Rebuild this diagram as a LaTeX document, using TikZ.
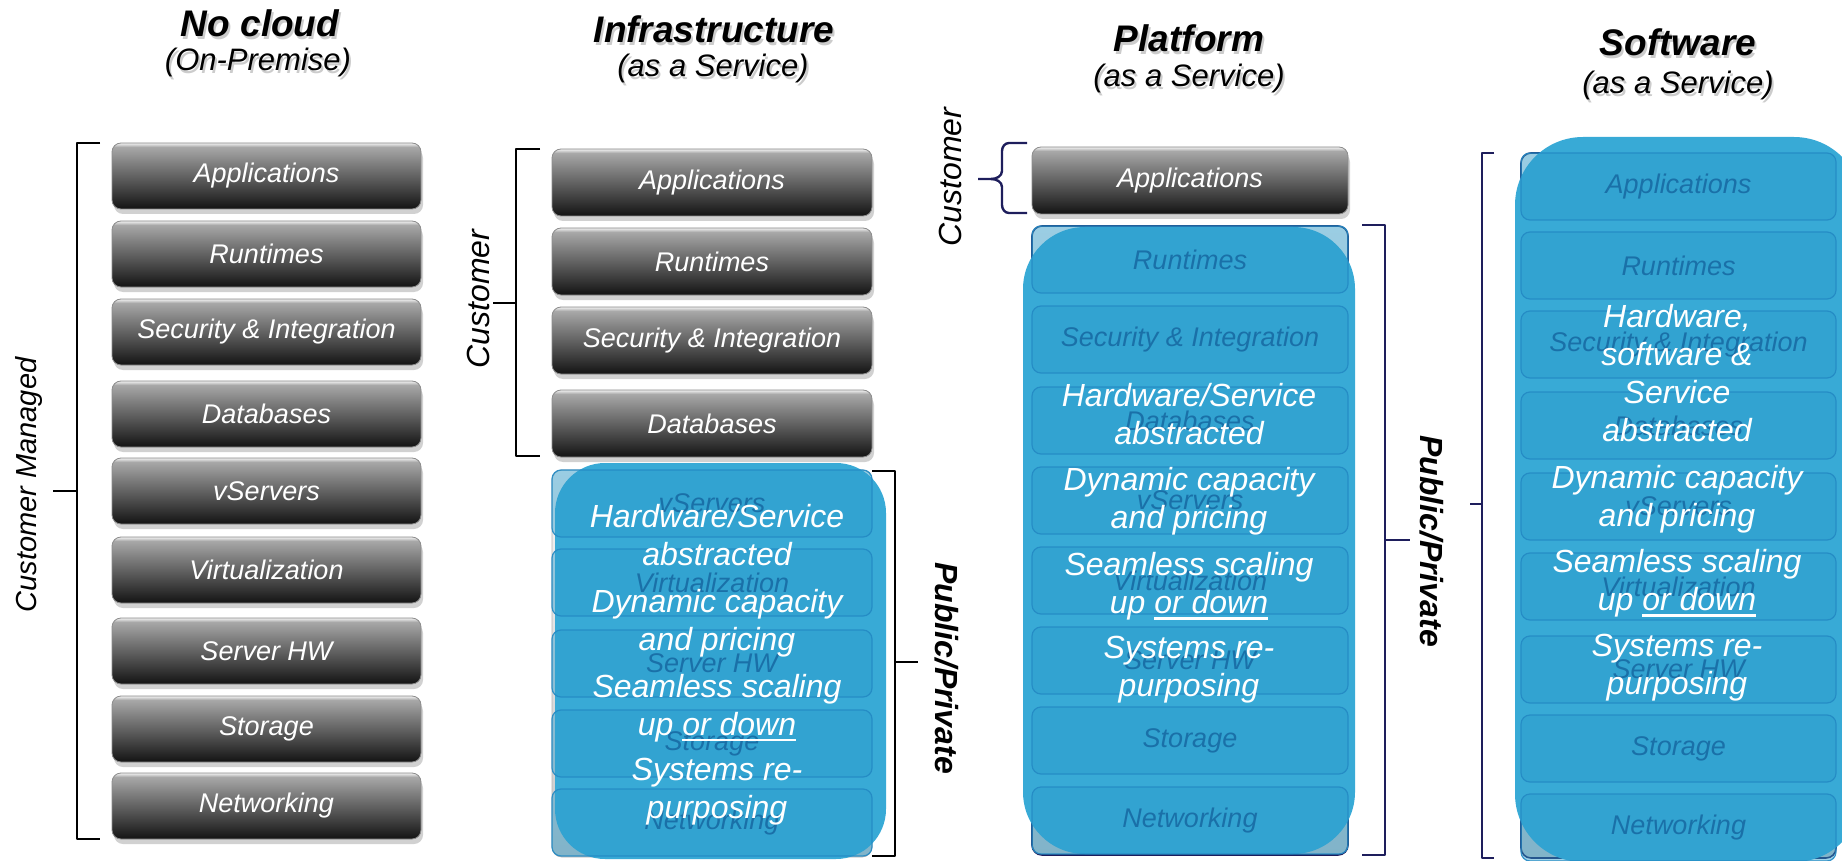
\documentclass[tikz,border=0pt]{standalone}
\usepackage{fontspec}
\setmainfont{Liberation Sans}
\usetikzlibrary{calc}
\definecolor{dk1}{RGB}{22,22,22}
\definecolor{dk2}{RGB}{48,48,48}
\definecolor{dk3}{RGB}{92,92,92}
\definecolor{dk4}{RGB}{132,132,132}
\definecolor{dk6}{RGB}{168,168,168}
\definecolor{dk5}{RGB}{230,230,230}
\pgfdeclareverticalshading{darkshade}{100bp}{color(0bp)=(dk1); color(26bp)=(dk1); color(34bp)=(dk2); color(48bp)=(dk3); color(61bp)=(dk4); color(72bp)=(dk6); color(74.5bp)=(dk5); color(100bp)=(dk5)}
\definecolor{cblue}{RGB}{56,170,214}
\definecolor{boxline}{RGB}{36,138,196}
\definecolor{boxfill}{RGB}{44,156,204}
\definecolor{boxtxt}{RGB}{20,100,158}
\definecolor{navy}{RGB}{30,30,92}
\definecolor{regtop}{RGB}{246,246,246}
\definecolor{regbot}{RGB}{200,200,200}
\newcommand\fntbox{\fontsize{27}{32}\selectfont\itshape}
\newcommand\fnttitle{\fontsize{37}{44}\selectfont\bfseries\itshape}
\newcommand\fntsub{\fontsize{31}{37}\selectfont\itshape}
\newcommand\fntbul{\fontsize{32}{38}\selectfont\itshape}
\newcommand\fntside{\fontsize{32}{38}\selectfont\itshape}
\newcommand\fntcm{\fontsize{29}{34}\selectfont\itshape}
\newcommand\fntpp{\fontsize{32}{38}\selectfont\bfseries\itshape}
\newcommand\myul[1]{\leavevmode\vtop{\hbox{#1}\kern3pt\hrule height 2.5pt}}
\begin{document}
\begin{tikzpicture}[x=1pt,y=-1pt,
  darkbox/.style={rounded corners=9pt, shading=darkshade, draw=black!45, line width=0.8pt, text=white, font=\fntbox, inner sep=0pt},
  innerbox/.style={rounded corners=9pt, draw=boxline, line width=1.2pt, fill=boxfill, fill opacity=0.45, draw opacity=0.9, text opacity=0.8, text=boxtxt, font=\fntbox, inner sep=0pt},
  region/.style={rounded corners=10pt, top color=regtop, bottom color=regbot, inner sep=0pt},
  blueov/.style={fill=cblue, inner sep=0pt},
  bul/.style={text=white, font=\fntbul, align=center, inner sep=0pt},
  ttl/.style={font=\fnttitle, inner sep=0pt},
  subttl/.style={font=\fntsub, inner sep=0pt},
  tshadow/.style={text=black, text opacity=0.2},
  brk/.style={line width=2.4pt, line join=round},
  nbrk/.style={brk, draw=navy},
  shd/.style={fill=black, opacity=0.18, rounded corners=9pt},
]
\useasboundingbox (0,0) rectangle (1842,861);
\clip (0,0) rectangle (1842,861);

% ---------- titles ----------
\node[ttl,tshadow] (t1s) at (262,26) {No cloud};
\node[ttl] (t1) at (260,23) {No cloud};
\node[subttl,tshadow] (s1s) at (260,65) {(On-Premise)};
\node[subttl] (s1) at (258,62) {(On-Premise)};
\node[ttl,tshadow] (t2s) at (716,32) {Infrastructure};
\node[ttl] (t2) at (714,29) {Infrastructure};
\node[subttl,tshadow] (s2s) at (715,71) {(as a Service)};
\node[subttl] (s2) at (713,68) {(as a Service)};
\node[ttl,tshadow] (t3s) at (1191,41) {Platform};
\node[ttl] (t3) at (1189,38) {Platform};
\node[subttl,tshadow] (s3s) at (1191,81) {(as a Service)};
\node[subttl] (s3) at (1189,78) {(as a Service)};
\node[ttl,tshadow] (t4s) at (1680,45) {Software};
\node[ttl] (t4) at (1678,42) {Software};
\node[subttl,tshadow] (s4s) at (1680,88) {(as a Service)};
\node[subttl] (s4) at (1678,85) {(as a Service)};

% ---------- column 1: No cloud ----------
\foreach \lab/\ty [count=\i] in {Applications/143,Runtimes/221,Security \& Integration/299,Databases/381,vServers/458,Virtualization/537,Server HW/618,Storage/696,Networking/773}{
  \fill[shd] (114,\ty+6) rectangle (423,\ty+71);
  \node[darkbox, minimum width=309pt, minimum height=66pt] (a\i) at (266.5,\ty+33) {\lab};
}

% ---------- column 2: IaaS ----------
\foreach \lab/\ty [count=\i] in {Applications/149,Runtimes/228,Security \& Integration/307,Databases/390}{
  \fill[shd] (554,\ty+6) rectangle (874,\ty+72);
  \node[darkbox, minimum width=320pt, minimum height=67pt] (b\i) at (712,\ty+33.5) {\lab};
}
\node[region, draw=black!30, line width=0.8pt, minimum width=320pt, minimum height=387pt] (rb) at (712,663.5) {};
\node[blueov, rounded corners=50pt, minimum width=331pt, minimum height=396pt] (ob) at (720.5,661) {};
\foreach \lab/\ty [count=\i from 5] in {vServers/470,Virtualization/549,Server HW/630,Storage/710,Networking/789}{
  \node[innerbox, minimum width=320pt, minimum height=67pt] (b\i) at (712,\ty+33.5) {\lab};
}
\node[bul] (pb1) at (717,535) {Hardware/Service\\abstracted};
\node[bul] (pb2) at (717,623) {Dynamic capacity\\and pricing};
\node[bul] (pb3) at (717,708) {Seamless scaling\\up \myul{or down}};
\node[bul] (pb4) at (717,792) {Systems re-\\purposing};

% ---------- column 3: PaaS ----------
\fill[shd] (1034,153) rectangle (1350,219);
\node[darkbox, minimum width=316pt, minimum height=67pt] (c1) at (1190,180.5) {Applications};
\node[region, draw=navy, line width=1.6pt, minimum width=316pt, minimum height=629pt] (rc) at (1190,540.5) {};
\node[blueov, rounded corners=62pt, minimum width=332pt, minimum height=627pt] (oc) at (1189,540.5) {};
\foreach \lab/\ty [count=\i from 2] in {Runtimes/226,Security \& Integration/306,Databases/387,vServers/467,Virtualization/547,Server HW/627,Storage/707,Networking/787}{
  \node[innerbox, minimum width=316pt, minimum height=67pt] (c\i) at (1190,\ty+33.5) {\lab};
}
\node[bul] (pc1) at (1189,414) {Hardware/Service\\abstracted};
\node[bul] (pc2) at (1189,501.5) {Dynamic capacity\\and pricing};
\node[bul] (pc3) at (1189,586.5) {Seamless scaling\\up \myul{or down}};
\node[bul] (pc4) at (1189,669.5) {Systems re-\\purposing};

% ---------- column 4: SaaS ----------
\node[region, draw=navy, line width=1.6pt, minimum width=315pt, minimum height=705pt] (rd) at (1678.5,505.5) {};
\node[blueov, rounded corners=68pt, minimum width=347pt, minimum height=725pt] (od) at (1688.5,499.5) {};
\foreach \lab/\ty [count=\i] in {Applications/153,Runtimes/232,Security \& Integration/311,Databases/392,vServers/473,Virtualization/553,Server HW/636,Storage/715,Networking/794}{
  \node[innerbox, minimum width=315pt, minimum height=67pt] (d\i) at (1678.5,\ty+33.5) {\lab};
}
\node[bul] (pd1) at (1677,373) {Hardware,\\software \&\\Service\\abstracted};
\node[bul] (pd2) at (1677,499.5) {Dynamic capacity\\and pricing};
\node[bul] (pd3) at (1677,583.5) {Seamless scaling\\up \myul{or down}};
\node[bul] (pd4) at (1677,667.5) {Systems re-\\purposing};

% ---------- brackets ----------
\draw[brk] (100,143) -- (77,143) -- (77,839) -- (100,839);
\draw[brk] (77,491) -- (53,491);
\draw[brk] (540,149) -- (516,149) -- (516,456) -- (540,456);
\draw[brk] (516,303) -- (493,303);
\draw[brk] (872,471) -- (895,471) -- (895,856) -- (872,856);
\draw[brk] (895,662) -- (918,662);
\draw[nbrk] (1027,143) -- (1009,143) to[out=180,in=90] (1002,151) -- (1002,171) to[out=270,in=0] (991,179) -- (978,179);
\draw[nbrk] (991,179) to[out=0,in=90] (1002,187) -- (1002,205) to[out=270,in=180] (1009,213) -- (1027,213);
\draw[nbrk] (1362,225) -- (1385,225) -- (1385,855) -- (1362,855);
\draw[nbrk] (1385,540) -- (1410,540);
\draw[nbrk] (1494,153) -- (1482,153) -- (1482,858) -- (1494,858);
\draw[nbrk] (1482,504) -- (1470,504);

% ---------- side labels ----------
\node[font=\fntcm, rotate=90, inner sep=0pt] (lcm) at (29,485) {Customer Managed};
\node[font=\fntside, rotate=90, inner sep=0pt] (lc2) at (478,299) {Customer};
\node[font=\fntside, rotate=90, inner sep=0pt] (lc3) at (950,177) {Customer};
\node[font=\fntpp, rotate=-90, inner sep=0pt] (lp2) at (947,668) {Public/Private};
\node[font=\fntpp, rotate=-90, inner sep=0pt] (lp3) at (1432,541) {Public/Private};
\end{tikzpicture}
\end{document}
